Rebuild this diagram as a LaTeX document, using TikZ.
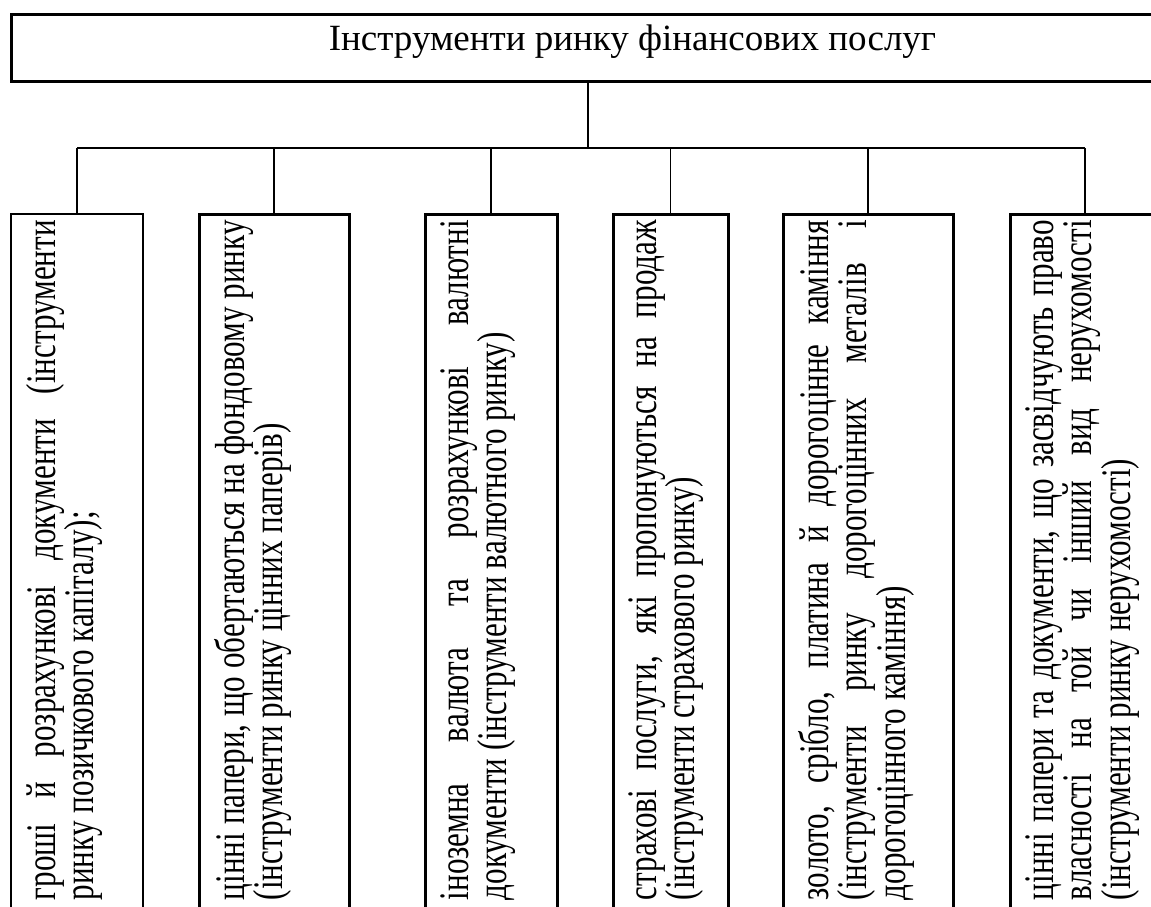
\documentclass[tikz,border=0pt]{standalone}
\usepackage{fontspec}
\setmainfont{Liberation Serif}
\newfontfamily\narrowfont[FakeStretch=0.74]{Liberation Serif}
\begin{document}
\begin{tikzpicture}[x=1pt, y=-1pt,
  catbox/.style={draw, line width=3pt, minimum height=720pt, anchor=north west, inner sep=0pt, outer sep=0pt},
  cattext/.style={rotate=90, anchor=north east, inner sep=0pt, text width=680pt, align=justify,
    font=\narrowfont\fontsize{42}{38.5}\selectfont,
    execute at begin node={\tolerance=10000 \hyphenpenalty=10000}},
  link/.style={line width=1.5pt}]
\useasboundingbox (0,0) rectangle (1151,906);
\clip (0,0) rectangle (1151,906);

% Top box
\node[draw, line width=3pt, minimum width=1244pt, minimum height=67pt, inner sep=0pt, outer sep=0pt] (top) at (633,47.5) {};
\node[anchor=base, inner sep=0pt, font=\fontsize{37}{44}\selectfont] (title) at (632.5,50) {Інструменти ринку фінансових послуг};

% Category boxes
\node[catbox, line width=2pt, minimum width=132pt] (b1) at (11,214) {};
\node[catbox, minimum width=150pt] (b2) at (199,214) {};
\node[catbox, minimum width=132pt] (b3) at (425,214) {};
\node[catbox, minimum width=115pt] (b4) at (613,214) {};
\node[catbox, minimum width=170pt] (b5) at (783,214) {};
\node[catbox, minimum width=150pt] (b6) at (1010,214) {};

% Box texts
\node[cattext] (t1) at ([xshift=15pt, yshift=-6pt]b1.north west) {гроші й розрахункові документи (інструменти\linebreak ринку позичкового капіталу);};
\node[cattext] (t2) at ([xshift=15pt, yshift=-6pt]b2.north west) {цінні папери, що обертаються на фондовому ринку\linebreak (інструменти ринку цінних паперів)};
\node[cattext] (t3) at ([xshift=15pt, yshift=-6pt]b3.north west) {іноземна валюта та розрахункові валютні\linebreak документи (інструменти валютного ринку)};
\node[cattext] (t4) at ([xshift=15pt, yshift=-6pt]b4.north west) {страхові послуги, які пропонуються на продаж\linebreak (інструменти страхового ринку)};
\node[cattext] (t5) at ([xshift=15pt, yshift=-6pt]b5.north west) {золото, срібло, платина й дорогоцінне каміння\linebreak (інструменти ринку дорогоцінних металів і\linebreak дорогоцінного каміння)};
\node[cattext] (t6) at ([xshift=15pt, yshift=-6pt]b6.north west) {цінні папери та документи, що засвідчують право\linebreak власності на той чи інший вид нерухомості\linebreak (інструменти ринку нерухомості)};

% Connectors
\coordinate (hub) at (588,148);
\draw[link] (top.south -| hub) -- (hub);
\draw[link] (b1.north |- hub) -- (b6.north |- hub);
\draw[link] (b1.north |- hub) -- (b1.north);
\draw[link] (b2.north |- hub) -- (b2.north);
\draw[link] (b3.north |- hub) -- (b3.north);
\draw[link] (b4.north |- hub) -- (b4.north);
\draw[link] (b5.north |- hub) -- (b5.north);
\draw[link] (b6.north |- hub) -- (b6.north);
\end{tikzpicture}
\end{document}
